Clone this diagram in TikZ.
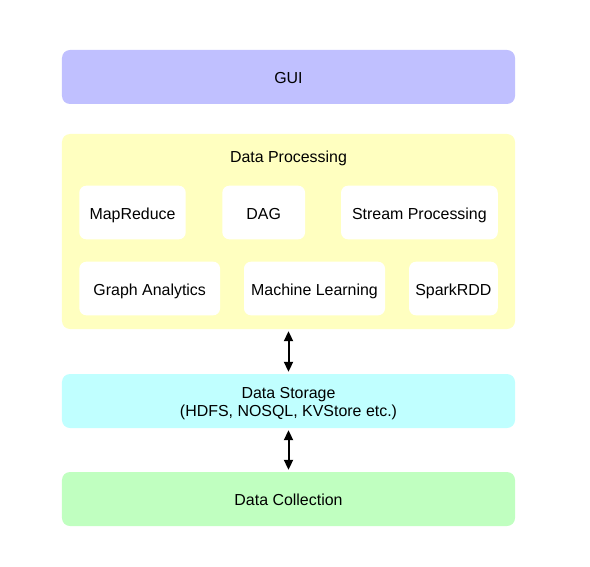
\documentclass[tikz,border=0pt]{standalone}
\usepackage{fontspec}
\setmainfont{Liberation Sans}
\usetikzlibrary{arrows.meta}
\definecolor{guicol}{HTML}{C0C0FF}
\definecolor{proccol}{HTML}{FFFFC0}
\definecolor{storecol}{HTML}{C0FFFF}
\definecolor{collcol}{HTML}{C0FFC0}
\tikzset{
  label text/.style={font=\fontsize{16}{17.5}\selectfont, text height=13.6bp, text depth=0pt},
  layer/.style={rounded corners=8bp, minimum width=453bp, minimum height=54bp, inner sep=0pt, align=center},
  module/.style={fill=white, rounded corners=7bp, minimum height=53.6bp, inner sep=0pt},
  link/.style={{Triangle[length=10bp,width=9bp]}-{Triangle[length=10bp,width=9bp]}, line width=2bp, shorten >=2bp, shorten <=2bp}
}
\begin{document}
\begin{tikzpicture}[x=1bp, y=-1bp, every node/.style={label text}]
\useasboundingbox (0,0) rectangle (590,567);
% the layers
\node[layer, fill=guicol] (gui) at (288.5,77) {GUI};
\node[layer, fill=proccol, minimum height=195bp] (proc) at (288.5,231.5) {};
\node (proclabel) at (288.5,155.5) {Data Processing};
\node[layer, fill=storecol, text height=30.6bp] (store) at (288.5,401) {Data Storage\\(HDFS, NOSQL, KVStore etc.)};
\node[layer, fill=collcol] (coll) at (288.5,499) {Data Collection};
% modules in data processing
\node[module, minimum width=106.4bp] (mapred) at (132.5,212.5) {MapReduce};
\node[module, minimum width=82.7bp] (dag) at (263.7,212.5) {DAG};
\node[module, minimum width=156.7bp] (stream) at (419.4,212.5) {Stream Processing};
\node[module, minimum width=140.7bp] (graph) at (149.7,288.5) {Graph Analytics};
\node[module, minimum width=141bp] (ml) at (314.5,288.5) {Machine Learning};
\node[module, minimum width=88.7bp] (rdd) at (453.4,288.5) {SparkRDD};
% arrows
\draw[link] (proc.south) -- (store.north);
\draw[link] (store.south) -- (coll.north);
\end{tikzpicture}
\end{document}
